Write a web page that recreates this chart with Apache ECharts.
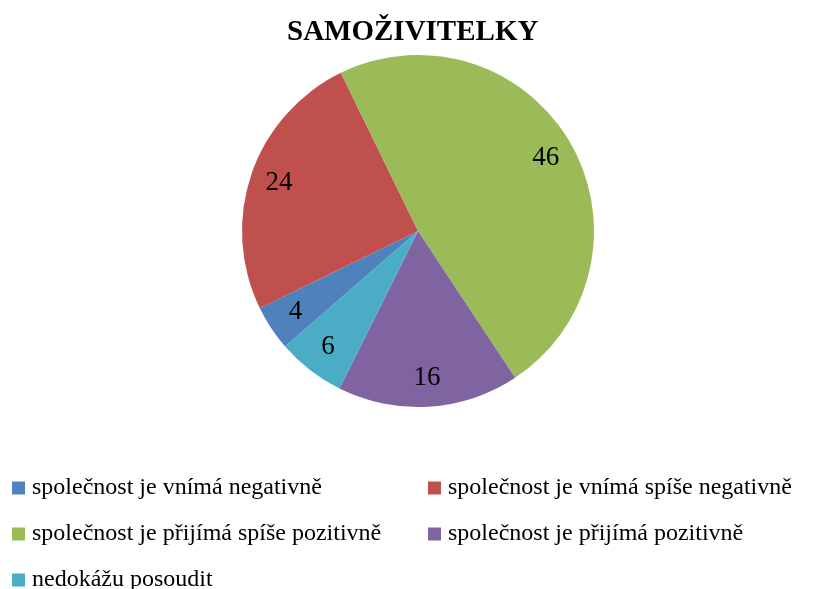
<!DOCTYPE html>
<html>
<head>
    <meta charset="utf-8">
    <title>ECharts</title>
    <script src="https://cdn.jsdelivr.net/npm/echarts@6/dist/echarts.min.js"></script>
</head>
<body style="margin:0">
    <div id="main" style="width: 834px;height:589px;"></div>
    <script type="text/javascript">
        var categories = [
            'společnost je vnímá negativně',
            'společnost je vnímá spíše negativně',
            'společnost je přijímá spíše pozitivně',
            'společnost je přijímá pozitivně',
            'nedokážu posoudit'
        ];
        var values = [4, 24, 46, 16, 6];
        var colors = ['#4F81BD', '#C0504D', '#9BBB59', '#8064A2', '#4BACC6'];

        var serif = '"Liberation Serif", "Times New Roman", serif';
        var myChart = echarts.init(document.getElementById('main'));

        var pieData = categories.map(function (name, i) {
            return { name: name, value: values[i], itemStyle: { color: colors[i] } };
        });
        var labelData = categories.map(function (name, i) {
            return { name: name, value: values[i] };
        });

        // legenda ve dvou sloupcich
        var legendStyle = {
            orient: 'vertical',
            itemWidth: 13,
            itemHeight: 13,
            itemGap: 22,
            padding: 0,
            height: 160,
            icon: 'rect',
            textStyle: { fontFamily: serif, fontSize: 24, color: '#000', padding: [0, 0, 0, 2] }
        };

        myChart.setOption({
            animation: false,
            title: {
                text: 'SAMOŽIVITELKY',
                left: 282,
                top: 13,
                textStyle: { fontFamily: serif, fontSize: 29, fontWeight: 'bold', color: '#000' }
            },
            legend: [
                Object.assign({}, legendStyle, {
                    left: 12, top: 476,
                    data: [categories[0], categories[2], categories[4]]
                }),
                Object.assign({}, legendStyle, {
                    left: 428, top: 476,
                    data: [categories[1], categories[3]]
                })
            ],
            series: [{
                name: 'main',
                type: 'pie',
                center: [418, 231],
                radius: 176,
                startAngle: 221,
                clockwise: true,
                label: { show: false },
                labelLine: { show: false },
                emphasis: { disabled: true },
                itemStyle: { borderWidth: 0 },
                data: pieData
            }, {
                name: 'labels',
                type: 'pie',
                center: [418, 231],
                radius: [112, 176],
                startAngle: 221,
                clockwise: true,
                silent: true,
                legendHoverLink: false,
                itemStyle: { color: 'transparent' },
                label: {
                    show: true,
                    position: 'inside',
                    formatter: '{c}',
                    fontFamily: serif,
                    fontSize: 27,
                    color: '#000'
                },
                labelLine: { show: false },
                data: labelData
            }]
        });
    </script>
</body>
</html>
